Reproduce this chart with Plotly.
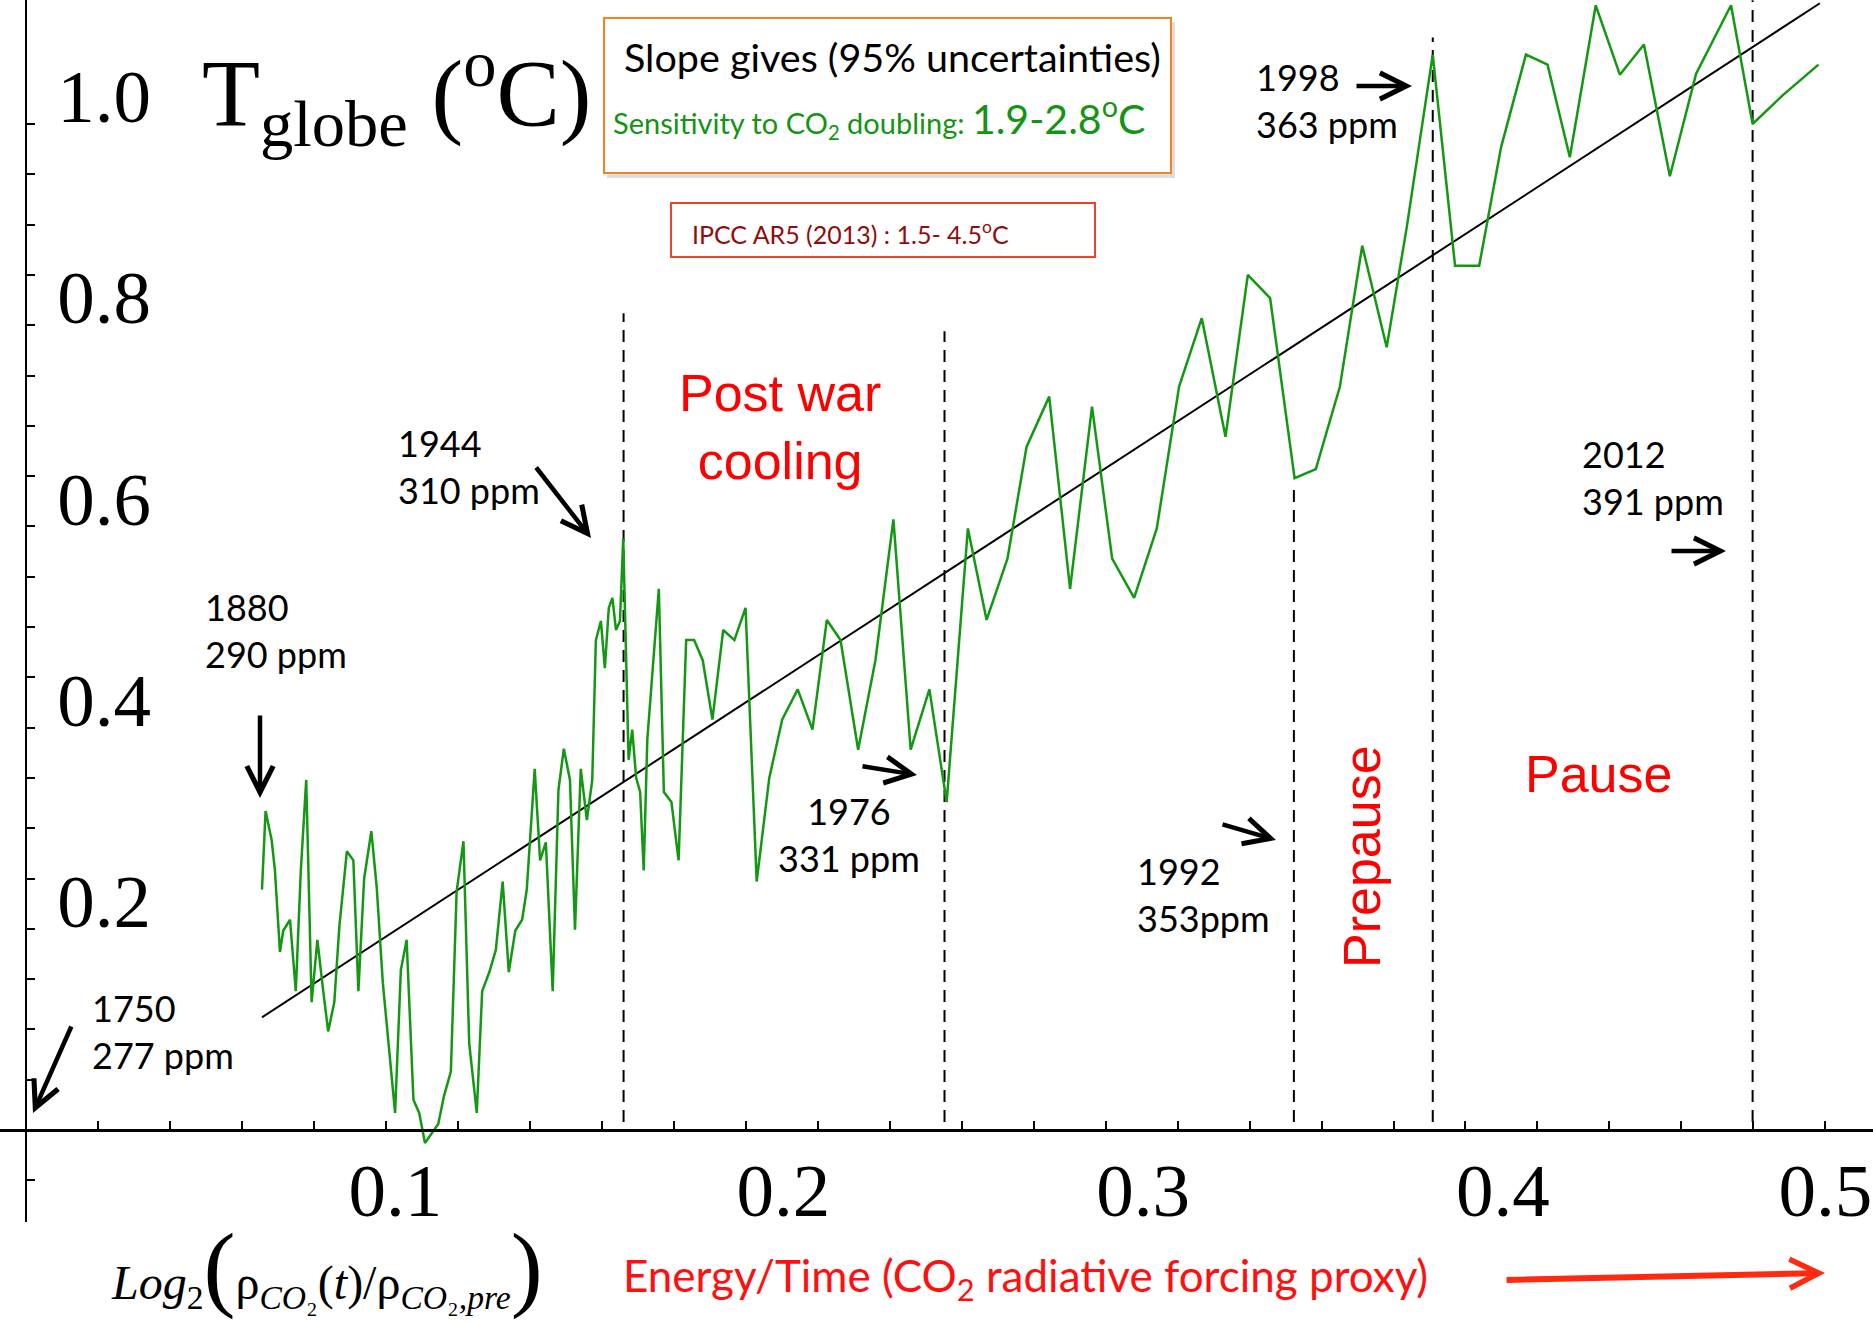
import plotly.graph_objects as go

W, H = 1873, 1323

# ---- data ----
# x: Log2(rho_CO2(t)/rho_CO2,pre) ; y: global temperature anomaly (deg C)
temp_x = [0.0655, 0.0665, 0.0682, 0.0691, 0.0705, 0.0714, 0.0733, 0.0749, 0.0763, 0.0778,
          0.0793, 0.0809, 0.0824, 0.0839, 0.0856, 0.0870, 0.0891, 0.0909, 0.0923, 0.0939,
          0.0959, 0.0974, 0.0991, 0.1008, 0.1025, 0.1041, 0.1057, 0.1076, 0.1092, 0.1108,
          0.1127, 0.1145, 0.1161, 0.1180, 0.1196, 0.1215, 0.1231, 0.1252, 0.1267, 0.1287,
          0.1305, 0.1324, 0.1341, 0.1359, 0.1378, 0.1391, 0.1413, 0.1428, 0.1444, 0.1463,
          0.1479, 0.1494, 0.1511, 0.1525, 0.1541, 0.1558, 0.1573, 0.1583, 0.1597, 0.1608,
          0.1619, 0.1629, 0.1639, 0.1650, 0.1659,
          0.1674, 0.1684, 0.1695, 0.1706, 0.1716, 0.1726, 0.1758, 0.1772, 0.1793, 0.1813,
          0.1834, 0.1856, 0.1880, 0.1907, 0.1937, 0.1968, 0.1999, 0.2030, 0.2065, 0.2101,
          0.2144, 0.2185, 0.2225, 0.2263, 0.2312, 0.2360, 0.2410, 0.2458, 0.2510, 0.2558,
          0.2617,
          0.2669, 0.2727, 0.2780, 0.2843, 0.2901, 0.2962, 0.3018, 0.3079, 0.3142, 0.3204,
          0.3267, 0.3333, 0.3395, 0.3457, 0.3525, 0.3584,
          0.3651, 0.3713, 0.3781, 0.3837, 0.3909, 0.3971, 0.4038, 0.4099, 0.4168, 0.4228,
          0.4290, 0.4362, 0.4429, 0.4496, 0.4568, 0.4641, 0.4738, 0.4798, 0.4883, 0.4981]
temp_y = [0.239, 0.317, 0.288, 0.258, 0.177, 0.198, 0.209, 0.138, 0.258, 0.348,
          0.127, 0.189, 0.142, 0.098, 0.127, 0.202, 0.277, 0.268, 0.138, 0.250,
          0.297, 0.241, 0.146, 0.081, 0.017, 0.159, 0.189, 0.030, 0.017, -0.013,
          -0.003, 0.006, 0.034, 0.058, 0.237, 0.287, 0.086, 0.017, 0.138, 0.157,
          0.179, 0.247, 0.157, 0.198, 0.209, 0.239, 0.359, 0.268, 0.286, 0.138,
          0.338, 0.379, 0.348, 0.199, 0.359, 0.308, 0.348, 0.487, 0.506, 0.459,
          0.519, 0.529, 0.497, 0.506, 0.588,
          0.368, 0.398, 0.350, 0.336, 0.258, 0.388, 0.538, 0.336, 0.326, 0.268,
          0.487, 0.487, 0.467, 0.408, 0.497, 0.487, 0.519, 0.247, 0.350, 0.408,
          0.438, 0.398, 0.507, 0.487, 0.378, 0.467, 0.607, 0.378, 0.438, 0.326,
          0.598,
          0.507, 0.568, 0.679, 0.729, 0.538, 0.719, 0.568, 0.529, 0.598, 0.739,
          0.807, 0.689, 0.850, 0.827, 0.648, 0.657,
          0.739, 0.879, 0.778, 0.898, 1.069, 0.859, 0.859, 0.977, 1.069, 1.059,
          0.967, 1.118, 1.049, 1.079, 0.948, 1.050, 1.118, 1.000, 1.029, 1.059]

# least-squares fit line (end points)
fit_x = [0.0655, 0.4985]
fit_y = [0.112, 1.120]

# marked years (dashed verticals): 1944, 1976, 1992, 1998, 2012
event_x = [0.166, 0.2552, 0.3523, 0.3909, 0.4798]
event_top = [0.812, 0.794, 0.643, 1.086, 1.123]

NB = '\u00a0'
x_label_vals = [0.1, 0.2, 0.3, 0.4, 0.5]
x_label_text = [NB + '0.1', NB * 4 + '0.2', NB * 4 + '0.3', NB * 4 + '0.4', '0.5']
x_minor_vals = [0.0, 0.02, 0.04, 0.06, 0.08, 0.1, 0.12, 0.14, 0.16, 0.18, 0.2, 0.22, 0.24,
                0.26, 0.28, 0.3, 0.32, 0.34, 0.36, 0.38, 0.4, 0.42, 0.44, 0.46, 0.48, 0.5]
y_label_vals = [0.2, 0.4, 0.6, 0.8, 1.0]
y_label_text = ['0.2', '0.4', '0.6', '0.8', '1.0']
y_minor_vals = [-0.05, 0.0, 0.05, 0.1, 0.15, 0.2, 0.25, 0.3, 0.35, 0.4, 0.45, 0.5,
                0.55, 0.6, 0.65, 0.7, 0.75, 0.8, 0.85, 0.9, 0.95, 1.0]


def P(px, py):
    """pixel position in the 1873x1323 page -> paper fractions"""
    return px / W, 1 - py / H


SERIF = 'Liberation Serif'
SANS = 'Lato'
ARIAL = 'Liberation Sans'

fig = go.Figure()

# dashed event lines
ev_xs, ev_ys = [], []
for ex, et in zip(event_x, event_top):
    ev_xs += [ex, ex, None]
    ev_ys += [0.008, et, None]
fig.add_trace(go.Scatter(x=ev_xs, y=ev_ys, mode='lines',
                         line=dict(color='black', width=2, dash='12px,8px'),
                         hoverinfo='skip'))

fig.add_trace(go.Scatter(x=fit_x, y=fit_y, mode='lines',
                         line=dict(color='black', width=2), hoverinfo='skip'))
fig.add_trace(go.Scatter(x=temp_x, y=temp_y, mode='lines',
                         line=dict(color='#149814', width=2.5)))

shapes = []
# orange box with soft shadow
bx0, by0 = P(607, 22)
bx1, by1 = P(1175, 178)
shapes.append(dict(type='rect', xref='paper', yref='paper', x0=bx0, y0=by0, x1=bx1, y1=by1,
                   line=dict(width=0), fillcolor='rgba(0,0,0,0.13)', layer='above'))
bx0, by0 = P(604, 18)
bx1, by1 = P(1171, 173)
shapes.append(dict(type='rect', xref='paper', yref='paper', x0=bx0, y0=by0, x1=bx1, y1=by1,
                   line=dict(color='#F5821F', width=2), fillcolor='white', layer='above'))
# red box
rx0, ry0 = P(671, 203)
rx1, ry1 = P(1095, 257)
shapes.append(dict(type='rect', xref='paper', yref='paper', x0=rx0, y0=ry0, x1=rx1, y1=ry1,
                   line=dict(color='#F2402C', width=2), fillcolor='white', layer='above'))

ann = []


def text(px, py, s, size, color='black', family=SANS, xanchor='left', align='left', angle=0):
    x, y = P(px, py)
    ann.append(dict(xref='paper', yref='paper', x=x, y=y, text=s, showarrow=False,
                    xanchor=xanchor, yanchor='middle', align=align, textangle=angle,
                    font=dict(family=family, size=size, color=color)))


def arrow(hx, hy, tx, ty, color='black', width=4.5, size=1.15, head=5):
    x, y = P(hx, hy)
    ann.append(dict(xref='paper', yref='paper', x=x, y=y, text='', showarrow=True,
                    ax=tx - hx, ay=ty - hy, axref='pixel', ayref='pixel',
                    arrowhead=head, arrowsize=size, arrowwidth=width, arrowcolor=color,
                    standoff=0))


# title on y axis
text(200, 94, 'T<sub>globe</sub> (<sup>o</sup>C)', 95, family=SERIF)

# boxes' text
text(622, 57, 'Slope gives (95% uncertainties)', 39.5)
text(611, 117, '<span style="font-size:29px">Sensitivity to CO<sub>2</sub> doubling: </span>'
     '1.9-2.8<sup>o</sup>C', 41, color='#139413')
text(690, 232, 'IPCC AR5 (2013) : 1.5- 4.5<sup>o</sup>C', 25, color='#8E0E0E')

# year / ppm labels
text(90, 1031, '1750<br>277 ppm', 36)
text(203, 630, '1880<br>290 ppm', 36)
text(396, 467, '1944<br>310 ppm', 36)
text(849, 834, '1976<br>331 ppm', 36, xanchor='center', align='center')
text(1135, 894, '1992<br>353ppm', 36)
text(1254, 100, '1998<br>363 ppm', 36)
text(1580, 478, '2012<br>391 ppm', 36)

# red period labels
text(780, 427, 'Post war<br>cooling', 52, color='#FF0000', family=ARIAL, xanchor='center',
     align='center')
text(1362, 857, 'Prepause', 52, color='#FF0000', family=ARIAL, xanchor='center', angle=-90)
text(1598, 774, 'Pause', 52, color='#FF0000', family=ARIAL, xanchor='center')

# axis titles
text(109, 1266,
     '<i>Log</i><sub>2</sub><span style="font-size:96px">(</span>ρ<sub><i>CO</i>₂</sub>'
     '(<i>t</i>)/ρ<sub><i>CO</i>₂<i>,pre</i></sub><span style="font-size:96px">)</span>',
     48, family=SERIF)
text(621, 1278, 'Energy/Time (CO<sub>2</sub> radiative forcing proxy)', 44, color='#FF0F0F')

# arrows
arrow(33, 1113, 72, 1025)
arrow(260, 798, 260, 714)
arrow(591, 538, 535, 466)
arrow(917, 775, 861, 766)
arrow(1276, 840, 1221, 824)
arrow(1412, 86, 1355, 86)
arrow(1726, 551, 1670, 551)
arrow(1825, 1273, 1505, 1280, color='#FF2A10', width=6, size=0.95)

tick_style = dict(ticks='inside', ticklen=8, tickwidth=2, tickcolor='black')

fig.update_layout(
    width=W, height=H, margin=dict(l=0, r=0, t=0, b=0, autoexpand=False),
    paper_bgcolor='white', plot_bgcolor='white', showlegend=False,
    shapes=shapes, annotations=ann,
    xaxis=dict(domain=[0, 1], range=[-0.00731, 0.51326], anchor='free', position=0.14588,
               automargin=False,
               showline=True, linecolor='black', linewidth=3,
               tickmode='array', tickvals=x_label_vals, ticktext=x_label_text,
               minor=dict(tickmode='array', tickvals=x_minor_vals, showgrid=False, **tick_style),
               tickfont=dict(family=SERIF, size=75, color='black'),
               ticklabelshift=0, ticklabelstandoff=-6, ticklabeloverflow='allow',
               showgrid=False, zeroline=False, **tick_style),
    yaxis=dict(domain=[0.07634, 1], range=[-0.09145, 1.12326], anchor='free', position=0.01404,
               automargin=False,
               showline=True, linecolor='black', linewidth=2,
               tickmode='array', tickvals=y_label_vals, ticktext=y_label_text,
               minor=dict(tickmode='array', tickvals=y_minor_vals, showgrid=False, **tick_style),
               ticklabelposition='inside', ticklabeloverflow='allow',
               tickfont=dict(family=SERIF, size=75, color='black'),
               ticklabelshift=-28, ticklabelstandoff=34,
               showgrid=False, zeroline=False, **tick_style),
)

fig.write_html('out.html', config={'displayModeBar': False},
               post_script="document.body.style.margin='0px';")
